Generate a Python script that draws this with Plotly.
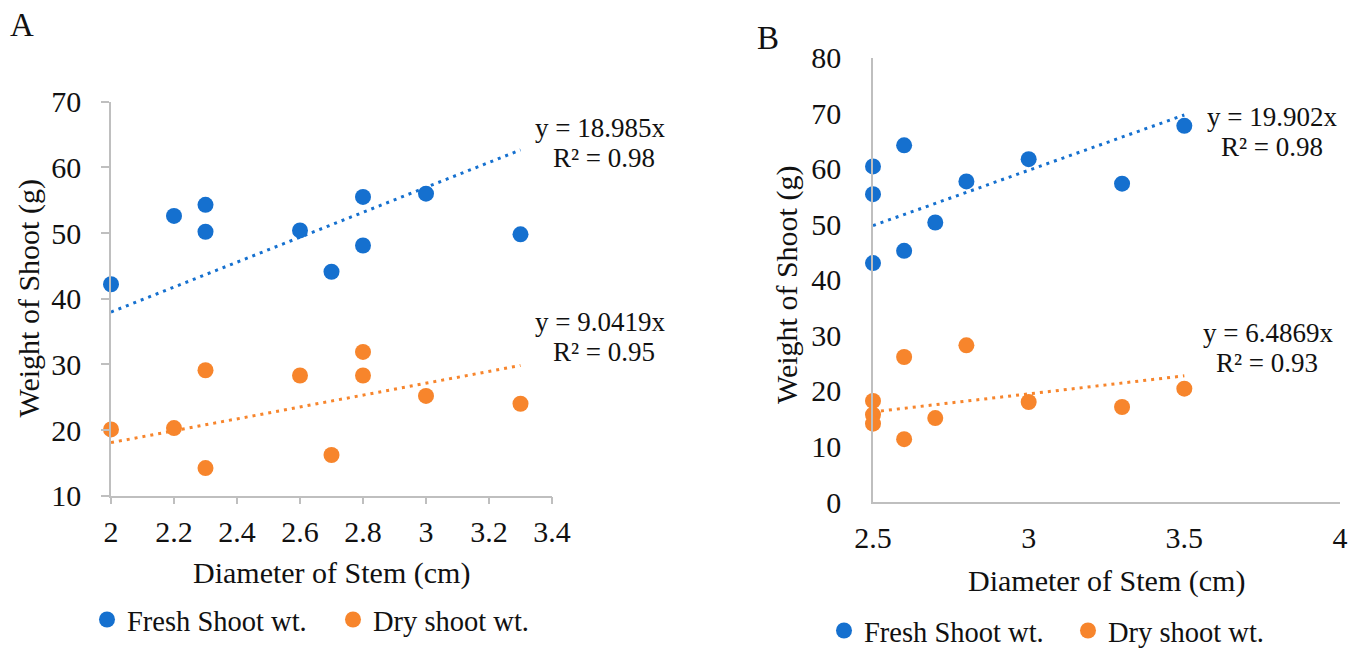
import plotly.graph_objects as go

# ---------------- data ----------------
# Panel A
a_diam = [2.0, 2.2, 2.3, 2.3, 2.6, 2.7, 2.8, 2.8, 3.0, 3.3]
a_fresh = [42.2, 52.6, 54.3, 50.2, 50.4, 44.1, 55.5, 48.1, 56.0, 49.8]
a_dry_diam = [2.0, 2.2, 2.3, 2.3, 2.6, 2.7, 2.8, 2.8, 3.0, 3.3]
a_dry = [20.1, 20.3, 29.1, 14.2, 28.3, 16.2, 31.9, 28.3, 25.2, 24.0]
a_fresh_slope = 18.985
a_dry_slope = 9.0419
a_fresh_r2 = "0.98"
a_dry_r2 = "0.95"

# Panel B
b_diam = [2.5, 2.5, 2.5, 2.6, 2.6, 2.7, 2.8, 3.0, 3.3, 3.5]
b_fresh = [60.4, 55.4, 43.0, 64.2, 45.2, 50.3, 57.7, 61.7, 57.3, 67.7]
b_dry_diam = [2.5, 2.5, 2.5, 2.6, 2.6, 2.7, 2.8, 3.0, 3.3, 3.5]
b_dry = [18.2, 15.7, 14.1, 26.1, 11.3, 15.1, 28.2, 18.0, 17.1, 20.4]
b_fresh_slope = 19.902
b_dry_slope = 6.4869
b_fresh_r2 = "0.98"
b_dry_r2 = "0.93"

a_xticks = [2, 2.2, 2.4, 2.6, 2.8, 3, 3.2, 3.4]
a_xticklabels = ["2", "2.2", "2.4", "2.6", "2.8", "3", "3.2", "3.4"]
a_yticks = [10, 20, 30, 40, 50, 60, 70]
b_xticks = [2.5, 3, 3.5, 4]
b_xticklabels = ["2.5", "3", "3.5", "4"]
b_yticks = [0, 10, 20, 30, 40, 50, 60, 70, 80]

series_names = ["Fresh Shoot wt.", "Dry shoot wt."]
x_title = "Diameter of Stem (cm)"
y_title = "Weight of Shoot (g)"

# ---------------- style ----------------
W, H = 1365, 648
BLUE = "#1570CF"
ORANGE = "#F7852C"
AXIS = "#BFBFBF"
FONT = "Liberation Serif, Times New Roman, serif"
TXT = "#111111"
MS = 16


def px_x(p):
    return p / W


def px_y(p):
    return 1 - p / H


fig = go.Figure()


def add_series(x, y, color, name, xa, ya, legend, show):
    fig.add_trace(go.Scatter(
        x=x, y=y, mode="markers", name=name,
        marker=dict(color=color, size=MS, line=dict(width=0)),
        xaxis=xa, yaxis=ya, legend=legend, showlegend=show,
        cliponaxis=False, hoverinfo="x+y"))


def add_trend(xs, slope, color, xa, ya):
    x0, x1 = min(xs), max(xs)
    fig.add_trace(go.Scatter(
        x=[x0, x1], y=[slope * x0, slope * x1], mode="lines",
        line=dict(color=color, width=3, dash="3px,5px"),
        xaxis=xa, yaxis=ya, showlegend=False, hoverinfo="skip",
        cliponaxis=False))


# Panel A
add_trend(a_diam, a_fresh_slope, BLUE, "x", "y")
add_trend(a_dry_diam, a_dry_slope, ORANGE, "x", "y")
add_series(a_diam, a_fresh, BLUE, series_names[0], "x", "y", "legend", True)
add_series(a_dry_diam, a_dry, ORANGE, series_names[1], "x", "y", "legend", True)

# Panel B
add_trend(b_diam, b_fresh_slope, BLUE, "x2", "y2")
add_trend(b_dry_diam, b_dry_slope, ORANGE, "x2", "y2")
add_series(b_diam, b_fresh, BLUE, series_names[0], "x2", "y2", "legend2", True)
add_series(b_dry_diam, b_dry, ORANGE, series_names[1], "x2", "y2", "legend2", True)

tickfont = dict(family=FONT, size=30, color=TXT)
common = dict(showgrid=False, zeroline=False, showline=True, linecolor=AXIS,
              linewidth=1.5, tickfont=tickfont, fixedrange=True, automargin=False)

fig.update_layout(
    width=W, height=H,
    margin=dict(l=0, r=0, t=0, b=0, autoexpand=False),
    paper_bgcolor="white", plot_bgcolor="white",
    font=dict(family=FONT, color=TXT),
    xaxis=dict(domain=[px_x(111), px_x(552)], range=[2, 3.4],
               tickvals=a_xticks, ticktext=a_xticklabels,
               ticks="outside", ticklen=7, tickcolor=AXIS, tickwidth=1.5,
               ticklabelstandoff=2, anchor="y", **common),
    yaxis=dict(domain=[px_y(495.7), px_y(101.7)], range=[10, 70],
               tickvals=a_yticks,
               ticks="outside", ticklen=8, tickcolor=AXIS, tickwidth=1.5,
               ticklabelstandoff=14, anchor="x", **common),
    xaxis2=dict(domain=[px_x(873), px_x(1340)], range=[2.5, 4],
                tickvals=b_xticks, ticktext=b_xticklabels,
                ticks="", ticklabelstandoff=8, anchor="y2", **common),
    yaxis2=dict(domain=[px_y(502), px_y(57.5)], range=[0, 80],
                tickvals=b_yticks,
                ticks="", ticklabelstandoff=24, anchor="x2", **common),
    legend=dict(orientation="h", x=px_x(87), xanchor="left",
                y=px_y(620), yanchor="middle",
                font=dict(family=FONT, size=28.5, color=TXT),
                itemwidth=30, entrywidth=201, entrywidthmode="pixels",
                bgcolor="rgba(0,0,0,0)"),
    legend2=dict(orientation="h", x=px_x(824), xanchor="left",
                 y=px_y(631), yanchor="middle",
                 font=dict(family=FONT, size=28.5, color=TXT),
                 itemwidth=30, entrywidth=199, entrywidthmode="pixels",
                 bgcolor="rgba(0,0,0,0)"),
)

ann = []


def add_text(text, x, y, size=27, angle=0):
    ann.append(dict(text=text, x=px_x(x), y=px_y(y), xref="paper", yref="paper",
                    xanchor="center", yanchor="middle", showarrow=False,
                    textangle=angle, font=dict(family=FONT, size=size, color=TXT)))


# Panel labels
add_text("A", 22, 25, size=33)
add_text("B", 768, 38, size=33)
# Axis titles
add_text(x_title, 331.5, 573, size=30)
add_text(x_title, 1106.5, 581, size=30)
add_text(y_title, 28, 298.5, size=30, angle=-90)
add_text(y_title, 787, 285, size=30, angle=-90)
# Trendline equations
add_text(f"y = {a_fresh_slope}x", 600, 128)
add_text(f"R² = {a_fresh_r2}", 604, 158)
add_text(f"y = {a_dry_slope}x", 600, 322)
add_text(f"R² = {a_dry_r2}", 604, 352)
add_text(f"y = {b_fresh_slope}x", 1272, 117)
add_text(f"R² = {b_fresh_r2}", 1272, 147)
add_text(f"y = {b_dry_slope}x", 1268, 333)
add_text(f"R² = {b_dry_r2}", 1267, 363)

fig.update_layout(annotations=ann)

fig.write_html("out.html")
